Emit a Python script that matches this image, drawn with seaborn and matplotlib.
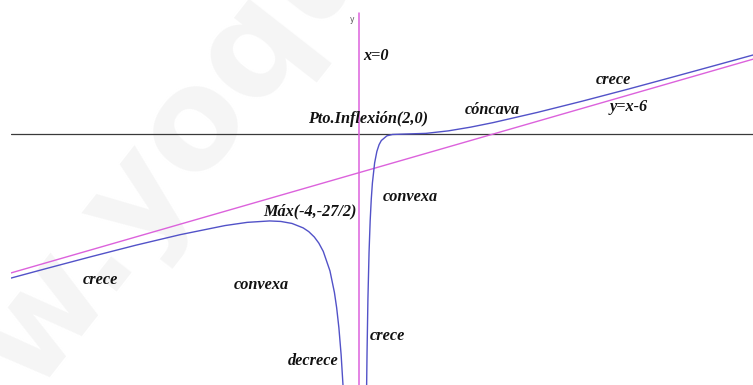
import numpy as np
import pandas as pd
import matplotlib
matplotlib.use("Agg")
import matplotlib.pyplot as plt
import seaborn as sns

# curve values (left and right branch of the function)
left_x = [-15.58, -14.0, -12.0, -10.0, -8.0, -6.0, -5.0, -4.0, -3.5, -3.0, -2.5,
          -2.25, -2.0, -1.8, -1.6, -1.3, -1.1, -1.0, -0.9, -0.8, -0.72, -0.7]
left_y = [-22.38, -20.90, -19.06, -17.28, -15.63, -14.22, -13.72, -13.50, -13.58,
          -13.89, -14.58, -15.16, -16.00, -16.94, -18.23, -21.26, -24.62, -27.00,
          -30.11, -34.30, -38.82, -40.17]

right_x = [0.34, 0.36, 0.4, 0.45, 0.5, 0.55, 0.6, 0.7, 0.8, 0.9, 1.0, 1.25, 1.5,
           2.0, 3.0, 4.0, 5.0, 6.0, 8.0, 10.0, 12.0, 14.0, 16.0, 17.64]
right_y = [-39.57, -34.04, -25.60, -18.39, -13.50, -10.08, -7.62, -4.48, -2.70,
           -1.64, -1.00, -0.27, -0.06, 0.00, 0.11, 0.50, 1.08, 1.78, 3.38, 5.12,
           6.94, 8.82, 10.72, 12.29]

# asymptotes
oblique_x = [-15.58, 17.64]
oblique_y = [-21.58, 11.64]
vertical_x = [0.0, 0.0]
vertical_y = [18.8, -39.0]

# annotations: (text, pixel x, pixel y)
labels = [
    ("x=0", 363, 56),
    ("Pto.Inflexión(2,0)", 308, 119),
    ("cóncava", 465, 110),
    ("crece", 596, 80),
    ("y=x-6", 610, 107),
    ("convexa", 383, 197),
    ("Máx(-4,-27/2)", 263, 211),
    ("crece", 83, 280),
    ("convexa", 234, 285),
    ("crece", 370, 336),
    ("decrece", 288, 361),
]

sns.set_theme(style="white")

W, H = 753, 385
fig = plt.figure(figsize=(W / 100, H / 100), dpi=100)
fig.patch.set_facecolor("white")

ax = fig.add_axes([11 / W, 0, (W - 11) / W, 1])
ax.set_xlim(-15.58, 17.64)
ax.set_ylim(-39.0, 20.84)
ax.axis("off")

# faint watermark, kept under the lines
ax.text(-0.165, -0.545, "www.yoquieroaprobar.es", transform=fig.transFigure,
        fontsize=100, fontweight="bold", color="#f5f5f5", rotation=52,
        rotation_mode="anchor", ha="left", va="baseline",
        family="DejaVu Sans", zorder=0, clip_on=False)

blue = "#5252c8"
magenta = "#dc62dc"

ax.axhline(0, color="#3a3a3a", lw=0.9, zorder=1)
sns.lineplot(x=vertical_x, y=vertical_y, sort=False, estimator=None,
             color=magenta, lw=1.1, ax=ax)
sns.lineplot(x=oblique_x, y=oblique_y, sort=False, estimator=None,
             color=magenta, lw=1.0, ax=ax)
sns.lineplot(x=left_x, y=left_y, sort=False, estimator=None,
             color=blue, lw=1.0, ax=ax)
sns.lineplot(x=right_x, y=right_y, sort=False, estimator=None,
             color=blue, lw=1.0, ax=ax)

fig.text(352 / W, 1 - 20 / H, "y", fontsize=5.5, color="#555555",
         ha="center", va="center", family="DejaVu Sans")

for txt, px, py in labels:
    fig.text(px / W, 1 - py / H, txt, fontsize=11.7, fontweight="bold",
             fontstyle="italic", family="Liberation Serif", color="#111111",
             ha="left", va="center")

fig.savefig("out.png", dpi=100)
